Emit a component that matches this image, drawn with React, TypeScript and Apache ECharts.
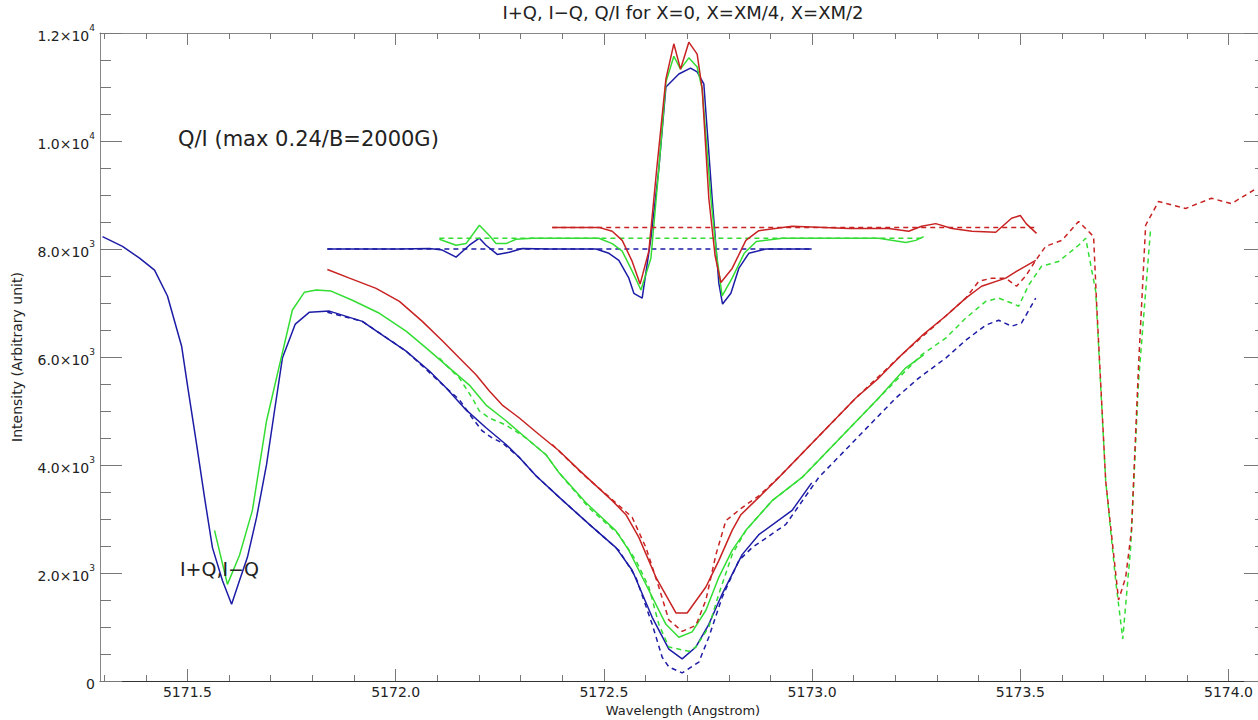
import React, { useEffect, useRef } from 'react';
import * as echarts from 'echarts';

// ---------- axis ticks ----------
const xMajorTicks = [5171.5, 5172.0, 5172.5, 5173.0, 5173.5, 5174.0];
const xMinorTicks = [
  5171.3, 5171.4, 5171.6, 5171.7, 5171.8, 5171.9,
  5172.1, 5172.2, 5172.3, 5172.4, 5172.6, 5172.7, 5172.8, 5172.9,
  5173.1, 5173.2, 5173.3, 5173.4, 5173.6, 5173.7, 5173.8, 5173.9,
];
const X_MIN = 5171.29;
const X_MAX = 5174.09;
const Y_MIN = 0;
const Y_MAX = 12000;
const Y_STEP = 2000;

// ---------- texts ----------
const titleText = 'I+Q, I\u2212Q, Q/I for X=0, X=XM/4, X=XM/2';
const xName = 'Wavelength (Angstrom)';
const yName = 'Intensity (Arbitrary unit)';
const noteQI = 'Q/I (max 0.24/B=2000G)';
const noteI = 'I+Q,I\u2212Q';

// ---------- I+Q (solid) and I-Q (dashed) profiles ----------
const blueIplusQ = [
  [5171.296, 8230], [5171.344, 8050], [5171.385, 7830], [5171.421, 7610], [5171.452, 7130],
  [5171.486, 6200], [5171.500, 5480], [5171.522, 4380], [5171.541, 3400], [5171.560, 2470],
  [5171.584, 1860], [5171.606, 1420], [5171.625, 1860], [5171.644, 2290], [5171.666, 3030],
  [5171.690, 4010], [5171.709, 5000], [5171.728, 5980], [5171.759, 6610], [5171.793, 6830],
  [5171.841, 6850], [5171.920, 6660], [5171.961, 6440], [5172.025, 6110], [5172.081, 5740],
  [5172.121, 5430], [5172.169, 5020], [5172.217, 4690], [5172.265, 4380], [5172.297, 4140],
  [5172.337, 3800], [5172.393, 3400], [5172.465, 2900], [5172.529, 2470], [5172.568, 2050],
  [5172.616, 1180], [5172.656, 590], [5172.688, 410], [5172.721, 630], [5172.752, 1050],
  [5172.784, 1610], [5172.832, 2340], [5172.872, 2710], [5172.952, 3160], [5172.999, 3670],
];
const blueIminusQ = [
  [5171.836, 6830], [5171.920, 6660], [5172.025, 6110], [5172.121, 5430], [5172.153, 5210],
  [5172.184, 4870], [5172.208, 4630], [5172.232, 4500], [5172.256, 4410], [5172.297, 4140],
  [5172.337, 3800], [5172.393, 3400], [5172.465, 2900], [5172.536, 2420], [5172.577, 1920],
  [5172.616, 1050], [5172.640, 440], [5172.656, 260], [5172.688, 150], [5172.728, 350],
  [5172.752, 810], [5172.784, 1550], [5172.824, 2230], [5172.856, 2470], [5172.937, 2900],
  [5173.016, 3770], [5173.201, 5240], [5173.256, 5610], [5173.321, 5980], [5173.369, 6310],
  [5173.417, 6590], [5173.448, 6680], [5173.479, 6570], [5173.503, 6630], [5173.537, 7090],
];
const greenIplusQ = [
  [5171.565, 2790], [5171.596, 1790], [5171.625, 2330], [5171.656, 3160], [5171.690, 4820],
  [5171.721, 5850], [5171.752, 6870], [5171.781, 7200], [5171.809, 7240], [5171.845, 7220],
  [5171.896, 7050], [5171.961, 6810], [5172.025, 6480], [5172.073, 6170], [5172.121, 5850],
  [5172.177, 5480], [5172.217, 5110], [5172.265, 4820], [5172.313, 4500], [5172.361, 4190],
  [5172.393, 3850], [5172.457, 3300], [5172.529, 2780], [5172.560, 2420], [5172.608, 1680],
  [5172.649, 1050], [5172.680, 810], [5172.712, 910], [5172.745, 1310], [5172.776, 1920],
  [5172.808, 2420], [5172.841, 2790], [5172.904, 3340], [5172.976, 3770], [5173.160, 5240],
  [5173.225, 5800], [5173.268, 6040],
];
const greenIminusQ = [
  [5172.105, 5980], [5172.121, 5850], [5172.153, 5610], [5172.184, 5240], [5172.201, 5000],
  [5172.225, 4870], [5172.265, 4740], [5172.313, 4500], [5172.361, 4190], [5172.393, 3850],
  [5172.465, 3200], [5172.536, 2710], [5172.577, 2230], [5172.608, 1740], [5172.632, 1050],
  [5172.656, 630], [5172.704, 550], [5172.721, 630], [5172.752, 1000], [5172.776, 1610],
  [5172.808, 2340], [5172.841, 2790], [5172.904, 3340], [5172.976, 3770], [5173.160, 5240],
  [5173.263, 6040], [5173.321, 6350], [5173.369, 6720], [5173.417, 7030], [5173.448, 7090],
  [5173.479, 7000], [5173.496, 6940], [5173.520, 7330], [5173.551, 7680], [5173.592, 7770],
  [5173.640, 8070], [5173.657, 8200], [5173.681, 7220], [5173.705, 3710], [5173.729, 1860],
  [5173.746, 780], [5173.765, 2470], [5173.784, 5560], [5173.813, 8380],
];
const redIplusQ = [
  [5171.836, 7620], [5171.889, 7460], [5171.953, 7270], [5172.009, 7030], [5172.064, 6660],
  [5172.112, 6300], [5172.153, 5980], [5172.193, 5670], [5172.225, 5370], [5172.256, 5110],
  [5172.297, 4870], [5172.345, 4560], [5172.393, 4260], [5172.440, 3910], [5172.520, 3340],
  [5172.553, 3080], [5172.584, 2660], [5172.625, 1920], [5172.673, 1260], [5172.700, 1260],
  [5172.745, 1740], [5172.776, 2230], [5172.808, 2790], [5172.829, 3080], [5172.872, 3400],
  [5172.920, 3770], [5173.105, 5240], [5173.160, 5610], [5173.215, 6040], [5173.263, 6390],
  [5173.321, 6760], [5173.369, 7090], [5173.407, 7310], [5173.465, 7460], [5173.496, 7610],
  [5173.537, 7790],
];
const redIminusQ = [
  [5172.376, 4380], [5172.448, 3840], [5172.529, 3300], [5172.568, 3030], [5172.601, 2470],
  [5172.632, 1740], [5172.656, 1130], [5172.688, 920], [5172.721, 1030], [5172.745, 1500],
  [5172.769, 2340], [5172.793, 2970], [5172.832, 3210], [5172.872, 3430], [5172.920, 3770],
  [5173.105, 5240], [5173.215, 6040], [5173.321, 6760], [5173.369, 7090], [5173.400, 7400],
  [5173.431, 7460], [5173.465, 7460], [5173.491, 7310], [5173.513, 7500], [5173.537, 7790],
  [5173.561, 8050], [5173.600, 8160], [5173.640, 8510], [5173.676, 8230], [5173.683, 7030],
  [5173.705, 3710], [5173.736, 1500], [5173.753, 1920], [5173.767, 2790], [5173.784, 5850],
  [5173.801, 8440], [5173.832, 8880], [5173.897, 8750], [5173.959, 8940], [5174.007, 8840],
  [5174.067, 9120],
];

// ---------- Q/I curves (offset onto the intensity scale) and their zero lines ----------
const blueQI = [
  [5171.836, 8000], [5172.009, 8000], [5172.081, 8010], [5172.112, 7980], [5172.145, 7850],
  [5172.177, 8070], [5172.201, 8200], [5172.217, 8070], [5172.244, 7900], [5172.273, 7940],
  [5172.304, 8010], [5172.369, 8000], [5172.481, 8000], [5172.512, 7920], [5172.536, 7790],
  [5172.560, 7460], [5172.572, 7180], [5172.592, 7090], [5172.613, 8200], [5172.632, 9490],
  [5172.649, 11000], [5172.680, 11240], [5172.708, 11350], [5172.724, 11280], [5172.740, 11060],
  [5172.760, 8940], [5172.776, 7370], [5172.785, 6980], [5172.805, 7180], [5172.824, 7640],
  [5172.848, 7920], [5172.889, 8000], [5172.999, 8000],
];
const greenQI = [
  [5172.105, 8180], [5172.145, 8070], [5172.169, 8100], [5172.201, 8440], [5172.225, 8250],
  [5172.241, 8100], [5172.265, 8100], [5172.289, 8180], [5172.328, 8200], [5172.488, 8200],
  [5172.520, 8100], [5172.544, 7960], [5172.568, 7590], [5172.589, 7240], [5172.613, 7830],
  [5172.632, 9490], [5172.649, 11090], [5172.668, 11570], [5172.684, 11330], [5172.704, 11540],
  [5172.724, 11370], [5172.736, 10970], [5172.757, 8940], [5172.771, 7880], [5172.784, 7130],
  [5172.808, 7460], [5172.837, 7920], [5172.866, 8140], [5172.928, 8200], [5173.160, 8200],
  [5173.191, 8160], [5173.225, 8120], [5173.249, 8160], [5173.268, 8230],
];
const redQI = [
  [5172.376, 8400], [5172.488, 8400], [5172.520, 8330], [5172.544, 8160], [5172.568, 7770],
  [5172.587, 7350], [5172.608, 7960], [5172.627, 9490], [5172.649, 11150], [5172.668, 11800],
  [5172.684, 11330], [5172.704, 11830], [5172.724, 11610], [5172.736, 10970], [5172.752, 8940],
  [5172.767, 7880], [5172.781, 7380], [5172.808, 7640], [5172.841, 8160], [5172.872, 8340],
  [5172.952, 8420], [5173.089, 8380], [5173.184, 8380], [5173.232, 8330], [5173.263, 8420],
  [5173.297, 8470], [5173.336, 8380], [5173.384, 8330], [5173.441, 8310], [5173.479, 8570],
  [5173.500, 8620], [5173.514, 8470], [5173.539, 8290],
];
const blueQIZero = [[5171.836, 8000], [5172.999, 8000]];
const greenQIZero = [[5172.105, 8200], [5173.268, 8200]];
const redQIZero = [[5172.376, 8400], [5173.537, 8400]];

// ---------- styling ----------
const BLUE = '#1c1ca6';
const GREEN = '#33dd33';
const RED = '#c82222';
const FONT = "'DejaVu Sans', sans-serif";
const TICK_COLOR = '#777';
const DASH = [5, 4];

function lineSeries(name: string, data: number[][], color: string, dashed: boolean, z = 2) {
  return {
    name,
    type: 'line',
    data,
    xAxisIndex: 0,
    yAxisIndex: 0,
    showSymbol: false,
    symbol: 'none',
    z,
    lineStyle: { color, width: 1.5, type: dashed ? DASH : 'solid' },
    emphasis: { disabled: true },
  };
}

function yLabel(v: number) {
  if (v === 0) return '{m|0}';
  const e = Math.floor(Math.log10(v) + 1e-9);
  const m = v / Math.pow(10, e);
  return `{m|${m.toFixed(1)}\u00d710}{e|${e}}`;
}

const xBase = {
  type: 'value',
  min: X_MIN,
  max: X_MAX,
  splitLine: { show: false },
};

export default function App() {
  const ref = useRef<HTMLDivElement>(null);

  useEffect(() => {
    document.body.style.margin = '0';
    const chart = echarts.init(ref.current as HTMLDivElement, undefined, { renderer: 'svg' });
    const option: any = {
      animation: false,
      backgroundColor: '#ffffff',
      grid: {
        left: 100,
        right: -8,
        top: 33,
        bottom: 39,
        containLabel: false,
        outerBoundsMode: 'none',
      },
      xAxis: [
        {
          ...xBase,
          position: 'bottom',
          axisLine: { show: true, onZero: false, lineStyle: { color: '#333', width: 1 } },
          axisTick: { show: true, inside: true, length: 12, customValues: xMajorTicks, lineStyle: { color: TICK_COLOR } },
          axisLabel: {
            show: true,
            customValues: xMajorTicks,
            formatter: (v: number) => v.toFixed(1),
            margin: 4,
            fontSize: 14,
            color: '#222',
            fontFamily: FONT,
          },
          name: xName,
          nameLocation: 'middle',
          nameGap: 19,
          nameTextStyle: { fontSize: 13, color: '#222', fontFamily: FONT, lineHeight: 14 },
        },
        {
          ...xBase,
          position: 'bottom',
          axisLine: { show: false, onZero: false },
          axisTick: { show: true, inside: true, length: 6, customValues: xMinorTicks, lineStyle: { color: TICK_COLOR } },
          axisLabel: { show: false },
        },
        {
          ...xBase,
          position: 'top',
          axisLine: { show: true, onZero: false, lineStyle: { color: '#888', width: 1 } },
          axisTick: { show: true, inside: true, length: 12, customValues: xMajorTicks, lineStyle: { color: TICK_COLOR } },
          axisLabel: { show: false },
        },
        {
          ...xBase,
          position: 'top',
          axisLine: { show: false, onZero: false },
          axisTick: { show: true, inside: true, length: 6, customValues: xMinorTicks, lineStyle: { color: TICK_COLOR } },
          axisLabel: { show: false },
        },
      ],
      yAxis: [
        {
          type: 'value',
          position: 'left',
          min: Y_MIN,
          max: Y_MAX,
          interval: Y_STEP,
          splitLine: { show: false },
          axisLine: { show: true, onZero: false, lineStyle: { color: '#888', width: 1 } },
          axisTick: { show: true, inside: true, length: 22, lineStyle: { color: TICK_COLOR } },
          minorTick: { show: true, splitNumber: 4, length: 11, lineStyle: { color: TICK_COLOR } },
          axisLabel: {
            show: true,
            margin: 5,
            formatter: yLabel,
            rich: {
              m: { fontSize: 14, color: '#222', fontFamily: FONT, lineHeight: 20, verticalAlign: 'bottom' },
              e: { fontSize: 9, color: '#222', fontFamily: FONT, lineHeight: 20, verticalAlign: 'top' },
            },
          },
          name: yName,
          nameLocation: 'middle',
          nameGap: 76,
          nameTextStyle: { fontSize: 14, color: '#222', fontFamily: FONT },
        },
        {
          type: 'value',
          position: 'right',
          min: Y_MIN,
          max: Y_MAX,
          interval: Y_STEP,
          splitLine: { show: false },
          axisLine: { show: true, onZero: false, lineStyle: { color: '#888', width: 1 } },
          axisTick: { show: true, inside: true, length: 22, lineStyle: { color: TICK_COLOR } },
          minorTick: { show: true, splitNumber: 4, length: 11, lineStyle: { color: TICK_COLOR } },
          axisLabel: { show: false },
        },
      ],
      series: [
        lineSeries('Blue I+Q', blueIplusQ, BLUE, false),
        lineSeries('Blue I-Q', blueIminusQ, BLUE, true),
        lineSeries('Green I+Q', greenIplusQ, GREEN, false),
        lineSeries('Green I-Q', greenIminusQ, GREEN, true),
        lineSeries('Red I+Q', redIplusQ, RED, false),
        lineSeries('Red I-Q', redIminusQ, RED, true),
        lineSeries('Blue Q/I zero', blueQIZero, BLUE, true),
        lineSeries('Blue Q/I', blueQI, BLUE, false),
        lineSeries('Green Q/I zero', greenQIZero, GREEN, true),
        lineSeries('Green Q/I', greenQI, GREEN, false),
        lineSeries('Red Q/I zero', redQIZero, RED, true),
        lineSeries('Red Q/I', redQI, RED, false),
      ],
      graphic: [
        {
          type: 'text',
          x: 683,
          y: 12,
          z: 100,
          style: { text: titleText, fontSize: 18, fill: '#222', fontFamily: FONT, align: 'center', verticalAlign: 'middle' },
        },
        {
          type: 'text',
          x: 178,
          y: 139,
          z: 100,
          style: { text: noteQI, fontSize: 21, fill: '#222', fontFamily: FONT, align: 'left', verticalAlign: 'middle' },
        },
        {
          type: 'text',
          x: 180,
          y: 569,
          z: 100,
          style: { text: noteI, fontSize: 19, fill: '#222', fontFamily: FONT, align: 'left', verticalAlign: 'middle' },
        },
      ],
    };
    chart.setOption(option);
    return () => chart.dispose();
  }, []);

  return <div ref={ref} style={{ width: 1258, height: 720 }} />;
}
